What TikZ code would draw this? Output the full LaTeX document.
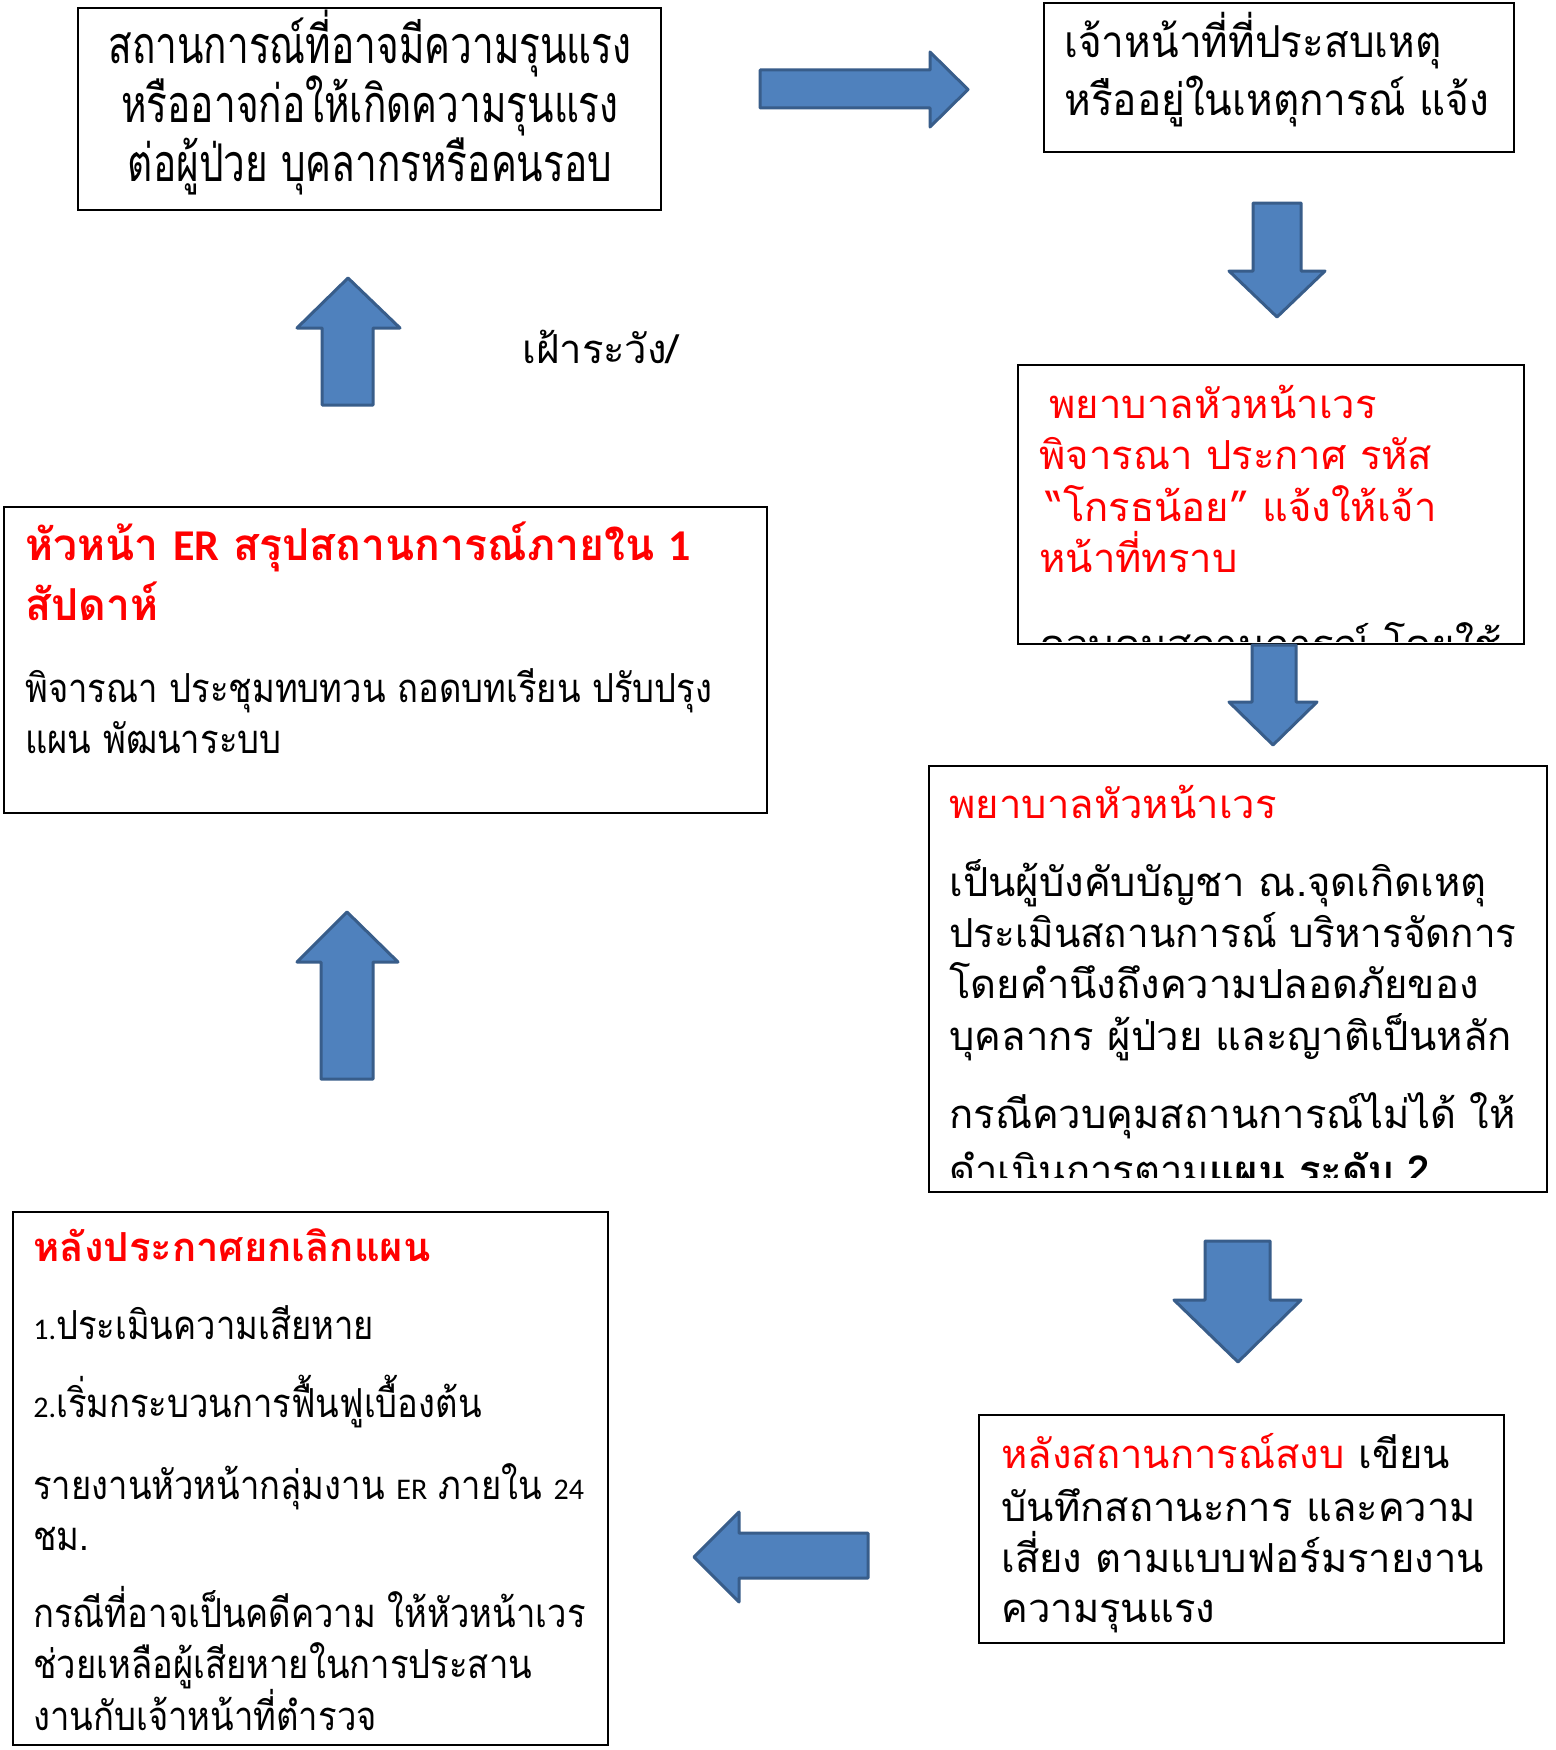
\documentclass[tikz,border=0pt]{standalone}
\usepackage{fontspec}
\setmainfont{Loma}[Script=Thai]
\newfontfamily\lat{Carlito}
\newfontfamily\thone{Loma}[Script=Thai,FakeStretch=0.745]
\newfontfamily\thtwo{Loma}[Script=Thai,FakeStretch=0.92]
\newfontfamily\thnar{Loma}[Script=Thai,FakeStretch=0.865]
\newfontfamily\thred{Loma}[Script=Thai,FakeStretch=0.97]
\newfontfamily\thslim{Loma}[Script=Thai,FakeStretch=0.965]
\usetikzlibrary{fit}
\definecolor{arrowfill}{HTML}{4F81BD}
\definecolor{arrowline}{HTML}{385D8A}
\definecolor{hot}{HTML}{FF0000}
\begin{document}
\begin{tikzpicture}[x=0.5pt,y=-0.5pt,
  box/.style={draw=black,line width=1pt,inner sep=0pt},
  barrow/.style={fill=arrowfill,draw=arrowline,line width=1.5pt,line join=round},
  ln/.style={anchor=mid west,inner sep=0pt,yshift=-4.5pt,font=\fontsize{20}{24}\selectfont},
  narln/.style={ln,font=\thnar\fontsize{20}{24}\selectfont},
  cln/.style={anchor=mid,inner sep=0pt,yshift=-5.5pt,font=\thone\fontsize{26}{30}\selectfont},
  twoln/.style={ln,yshift=-0.5pt,font=\thtwo\fontsize{22}{26}\selectfont},
  hotln/.style={ln,text=hot},
  boldhot/.style={ln,text=hot,font=\fontsize{20}{24}\selectfont\bfseries},
  bighot/.style={ln,text=hot,yshift=-0.5pt,font=\thred\fontsize{22}{26}\selectfont\bfseries}]
\useasboundingbox (0,0) rectangle (1556,1750);
\fill[white] (0,0) rectangle (1556,1750);

% block arrows
\draw[barrow] (760,70) -- (930,70) -- (930,52) -- (968,89.5) -- (930,127) -- (930,108) -- (760,108) -- cycle;
\draw[barrow] (1253,203) -- (1301,203) -- (1301,271) -- (1325,271) -- (1277,317) -- (1229,271) -- (1253,271) -- cycle;
\draw[barrow] (322,405) -- (322,328) -- (297,328) -- (348,278) -- (400,328) -- (373,328) -- (373,405) -- cycle;
\draw[barrow] (321,1079) -- (321,962) -- (297,962) -- (347,912) -- (398,962) -- (373,962) -- (373,1079) -- cycle;
\draw[barrow] (1205,1241) -- (1270,1241) -- (1270,1300) -- (1301,1300) -- (1238,1362) -- (1174,1300) -- (1205,1300) -- cycle;
\draw[barrow] (868,1533) -- (739,1533) -- (739,1512) -- (694,1557) -- (739,1602) -- (739,1578) -- (868,1578) -- cycle;

% boxes
\node[box,fit={(78,8) (661,210)}] (b1) {};
\node[box,fit={(1044,3) (1514,152)}] (b2) {};
\node[box,fit={(1018,365) (1524,644)}] (b3) {};
\node[box,fit={(4,507) (767,813)}] (b4) {};
\node[box,fit={(929,766) (1547,1192)}] (b5) {};
\node[box,fit={(13,1212) (608,1745)}] (b6) {};
\node[box,fit={(979,1415) (1504,1643)}] (b7) {};

% box 1
\node[cln] (t1a) at (370,47) {สถานการณ์ที่อาจมีความรุนแรง};
\node[cln] (t1b) at (370,106) {หรืออาจก่อให้เกิดความรุนแรง};
\node[cln] (t1c) at (370,165) {ต่อผู้ป่วย บุคลากรหรือคนรอบ};

% box 2
\node[twoln] (t2a) at (1064,42) {เจ้าหน้าที่ที่ประสบเหตุ};
\node[twoln] (t2b) at (1064,100) {หรืออยู่ในเหตุการณ์ แจ้ง};

% box 3
\node[hotln] (t3a) at (1049,404) {พยาบาลหัวหน้าเวร};
\node[hotln] (t3b) at (1039,455) {พิจารณา ประกาศ รหัส};
\node[hotln] (t3c) at (1046,507) {“โกรธน้อย” แจ้งให้เจ้า};
\node[hotln] (t3d) at (1039,558) {หน้าที่ทราบ};
\begin{scope}
\clip (1018,365) rectangle (1524,641);
\node[ln] (t3e) at (1039,644) {ควบคุมสถานการณ์ โดยใช้};
\end{scope}

% arrow over box 3 border
\draw[barrow] (1252,645) -- (1296,645) -- (1296,702) -- (1317,702) -- (1273,745) -- (1229,702) -- (1252,702) -- cycle;

% label
\node[ln] (lab) at (522,349) {เฝ้าระวัง/};

% box 4
\node[bighot] (t4a) at (25,545) {หัวหน้า {\lat ER} สรุปสถานการณ์ภายใน {\lat 1}};
\node[bighot] (t4b) at (25,605) {สัปดาห์};
\node[narln] (t4c) at (25,688) {พิจารณา ประชุมทบทวน ถอดบทเรียน ปรับปรุง};
\node[narln] (t4d) at (25,739) {แผน พัฒนาระบบ};

% box 5
\node[hotln] (t5a) at (949,804) {พยาบาลหัวหน้าเวร};
\node[ln] (t5b) at (949,882) {เป็นผู้บังคับบัญชา ณ.จุดเกิดเหตุ};
\node[ln,font=\thslim\fontsize{20}{24}\selectfont] (t5c) at (949,933) {ประเมินสถานการณ์ บริหารจัดการ};
\node[ln] (t5d) at (949,984) {โดยคำนึงถึงความปลอดภัยของ};
\node[ln] (t5e) at (949,1036) {บุคลากร ผู้ป่วย และญาติเป็นหลัก};
\node[ln] (t5f) at (949,1114) {กรณีควบคุมสถานการณ์ไม่ได้ ให้};
\begin{scope}
\clip (929,766) rectangle (1547,1177);
\node[ln] (t5g) at (949,1170) {ดำเนินการตาม\textbf{แผน ระดับ 2}};
\end{scope}

% box 6
\node[boldhot] (t6a) at (33,1247) {หลังประกาศยกเลิกแผน};
\node[narln] (t6b) at (33,1325) {{\lat\fontsize{15}{15}\selectfont 1.}ประเมินความเสียหาย};
\node[narln] (t6c) at (33,1403) {{\lat\fontsize{15}{15}\selectfont 2.}เริ่มกระบวนการฟื้นฟูเบื้องต้น};
\node[narln] (t6d) at (33,1485) {รายงานหัวหน้ากลุ่มงาน {\lat\fontsize{15}{15}\selectfont ER} ภายใน {\lat\fontsize{15}{15}\selectfont 24}};
\node[narln] (t6e) at (33,1536) {ชม.};
\node[narln] (t6f) at (33,1613) {กรณีที่อาจเป็นคดีความ ให้หัวหน้าเวร};
\node[narln] (t6g) at (33,1664) {ช่วยเหลือผู้เสียหายในการประสาน};
\node[narln] (t6h) at (33,1716) {งานกับเจ้าหน้าที่ตำรวจ};

% box 7
\node[ln] (t7a) at (1001,1454) {\textcolor{hot}{หลังสถานการณ์สงบ} เขียน};
\node[ln] (t7b) at (1001,1507) {บันทึกสถานะการ และความ};
\node[ln] (t7c) at (1001,1558) {เสี่ยง ตามแบบฟอร์มรายงาน};
\node[ln] (t7d) at (1001,1608) {ความรุนแรง};
\end{tikzpicture}
\end{document}
